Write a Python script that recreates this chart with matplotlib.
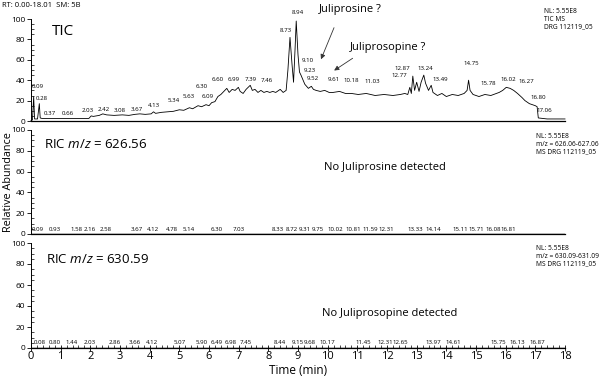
"""
LC-MS chromatogram panels: TIC plus two reconstructed ion chromatograms.
"""
import matplotlib
matplotlib.use("Agg")
import matplotlib.pyplot as plt
from matplotlib.ticker import MultipleLocator

plt.rcParams['font.family'] = ['Open Sans', 'DejaVu Sans']
plt.rcParams['mathtext.fontset'] = 'custom'
plt.rcParams['mathtext.it'] = 'Open Sans:italic'
plt.rcParams['mathtext.rm'] = 'Open Sans'

# TIC trace (time in min, relative abundance)
tic_t = [0.00, 0.05, 0.09, 0.12, 0.22, 0.28, 0.31, 0.37, 0.66, 1.00, 1.50, 1.95,
         2.03, 2.10, 2.30, 2.42, 2.55, 2.80, 3.08, 3.30, 3.50, 3.67, 3.85, 4.05,
         4.13, 4.20, 4.40, 4.60, 4.80, 5.00, 5.15, 5.34, 5.45, 5.63, 5.75, 5.90,
         6.00, 6.09, 6.20, 6.30, 6.40, 6.50, 6.60, 6.68, 6.78, 6.88, 6.99, 7.05,
         7.15, 7.25, 7.39, 7.46, 7.55, 7.65, 7.75, 7.85, 7.95, 8.05, 8.15, 8.25,
         8.40, 8.50, 8.60, 8.66, 8.73, 8.80, 8.85, 8.90, 8.94, 9.00, 9.05, 9.10,
         9.17, 9.23, 9.35, 9.45, 9.52, 9.61, 9.75, 9.90, 10.05, 10.18, 10.40, 10.60,
         10.80, 11.03, 11.30, 11.60, 11.90, 12.20, 12.45, 12.60, 12.70, 12.77, 12.82, 12.87,
         12.93, 13.00, 13.08, 13.15, 13.24, 13.30, 13.40, 13.49, 13.55, 13.70, 13.85, 14.00,
         14.20, 14.40, 14.60, 14.70, 14.75, 14.80, 14.90, 15.10, 15.30, 15.50, 15.78, 15.90,
         16.02, 16.15, 16.27, 16.40, 16.55, 16.65, 16.80, 17.00, 17.06, 17.10, 17.40, 17.80,
         18.00]
tic_y = [0.5, 1, 24, 2, 2, 17, 3, 2.5, 2.5, 2.5, 2.5, 2.5,
         5, 4.5, 5.5, 7, 6, 5.5, 6, 5.5, 6.5, 7, 6.5, 7,
         9, 7.5, 8.5, 9, 9.5, 11, 10.5, 13, 12, 15, 14, 16,
         15, 18, 19, 24, 26, 29, 32, 28, 31, 30, 33, 29,
         27, 31, 35, 30, 31, 28, 30, 28, 29, 28, 29, 28,
         31, 28, 30, 50, 82, 55, 38, 70, 98, 65, 48, 45,
         40, 36, 32, 34, 31, 30, 29, 30, 28, 28, 29, 27,
         27, 26, 27, 25, 26, 25, 26, 27, 26, 33, 27, 44,
         30, 38, 29, 38, 45, 37, 30, 35, 28, 25, 27, 24,
         26, 25, 27, 30, 40, 30, 26, 24, 26, 25, 28, 30,
         33, 32, 30, 27, 23, 20, 17, 15, 14, 3, 2, 2,
         2]

# labelled TIC peaks
tic_peaks = [0.09, 0.28, 0.37, 0.66, 2.03, 2.42, 3.08, 3.67, 4.13, 5.34, 5.63, 6.09,
             6.30, 6.60, 6.99, 7.39, 7.46, 8.73, 8.94, 9.10, 9.23, 9.52, 9.61, 10.18,
             11.03, 12.77, 12.87, 13.24, 13.49, 14.75, 15.78, 16.02, 16.27, 16.80, 17.06]
# where each label sits (layout)
tic_lab_x = [0.24, 0.37, 0.64, 1.25, 1.90, 2.44, 3.00, 3.56, 4.16, 4.80, 5.30, 5.95,
             5.75, 6.28, 6.82, 7.40, 7.95, 8.60, 9.00, 9.34, 9.40, 9.50, 10.20, 10.80,
             11.50, 12.40, 12.50, 13.30, 13.80, 14.85, 15.40, 16.10, 16.70, 17.10, 17.30]
tic_lab_y = [31, 20, 5, 5, 8, 9, 8, 9, 13, 18, 22, 22,
             31, 38, 38, 38, 37, 86, 104, 57, 47, 39, 38, 37,
             36, 42, 49, 49, 38, 54, 34, 38, 36, 21, 8]

# RIC m/z 626.56 noise labels
ric1_peaks = ['0.09', '0.93', '1.58', '2.16', '2.58', '3.67', '4.12', '4.78', '5.14',
              '6.30', '7.03', '8.33', '8.72', '9.31', '9.75', '10.02', '10.81', '11.59',
              '12.31', '13.33', '14.14', '15.11', '15.71', '16.08', '16.81']
ric1_lab_x = [0.24, 0.81, 1.52, 1.99, 2.53, 3.57, 4.11, 4.75, 5.30, 6.27, 7.00, 8.33,
              8.80, 9.23, 9.68, 10.25, 10.86, 11.43, 11.96, 12.94, 13.55, 14.46, 15.00,
              15.60, 16.10]

# RIC m/z 630.59 noise labels
ric2_peaks = ['0.08', '0.80', '1.44', '2.03', '2.86', '3.66', '4.12', '5.07', '5.90',
              '6.49', '6.98', '7.45', '8.44', '9.15', '9.68', '10.17', '11.45', '12.31',
              '12.65', '13.97', '14.61', '15.75', '16.13', '16.87']
ric2_lab_x = [0.30, 0.81, 1.37, 1.97, 2.83, 3.50, 4.07, 5.02, 5.75, 6.26, 6.74, 7.25,
              8.39, 9.00, 9.40, 10.00, 11.20, 11.93, 12.44, 13.55, 14.22, 15.74, 16.40,
              17.05]

# flat RIC baselines
ric_t = [0.0, 18.0]
ric1_y = [0.4, 0.4]
ric2_y = [0.4, 0.4]

fig = plt.figure(figsize=(6.09, 3.85), dpi=100)
left, width = 31 / 609, 534 / 609
ax1 = fig.add_axes([left, 1 - 121 / 385, width, 102 / 385])
ax2 = fig.add_axes([left, 1 - 234 / 385, width, 104 / 385])
ax3 = fig.add_axes([left, 1 - 348 / 385, width, 105 / 385])

for ax in (ax1, ax2, ax3):
    ax.set_xlim(0, 18)
    ax.set_ylim(0, 100)
    for s in ('top', 'right'):
        ax.spines[s].set_visible(False)
    ax.spines['left'].set_linewidth(0.7)
    ax.spines['bottom'].set_linewidth(0.9)
    ax.yaxis.set_major_locator(MultipleLocator(20))
    ax.yaxis.set_minor_locator(MultipleLocator(5))
    ax.tick_params(axis='y', which='major', direction='out', length=3, width=0.6,
                   labelsize=6, pad=1)
    ax.tick_params(axis='y', which='minor', direction='in', length=1.8, width=0.5)
    ax.patch.set_alpha(0)

for ax in (ax1, ax2):
    ax.tick_params(axis='x', which='both', bottom=False, labelbottom=False)

ax3.xaxis.set_major_locator(MultipleLocator(1))
ax3.xaxis.set_minor_locator(MultipleLocator(0.2))
ax3.tick_params(axis='x', which='major', direction='inout', length=5, width=0.6,
                labelsize=8, pad=0)
ax3.tick_params(axis='x', which='minor', direction='in', length=2, width=0.5)

lab_fs = 4.4
nl_fs = 4.8

# panel 1: TIC
ax1.plot(tic_t, tic_y, color='black', lw=0.6, clip_on=False)
for lab, x, y in zip(tic_peaks, tic_lab_x, tic_lab_y):
    ax1.text(x, y, f"{lab:.2f}", fontsize=lab_fs, ha='center', va='bottom', clip_on=False)
ax1.text(0.7, 88, 'TIC', fontsize=11, va='center')
ax1.annotate('', xy=(9.74, 58), xytext=(10.25, 94),
             arrowprops=dict(arrowstyle='-|>', lw=0.6, color='#333333',
                             mutation_scale=7))
ax1.text(10.75, 109, 'Juliprosine ?', fontsize=8, ha='center', va='center')
ax1.annotate('', xy=(10.14, 48), xytext=(10.92, 63),
             arrowprops=dict(arrowstyle='-|>', lw=0.6, color='#333333',
                             mutation_scale=7))
ax1.text(12.05, 72, 'Juliprosopine ?', fontsize=8, ha='center', va='center')
ax1.text(17.3, 111, 'NL: 5.55E8\nTIC MS\nDRG 112119_05', fontsize=nl_fs,
         va='top', linespacing=1.15)

# panel 2: RIC 626.56
ax2.plot(ric_t, ric1_y, color='black', lw=1.0)
for lab, x in zip(ric1_peaks, ric1_lab_x):
    ax2.text(x, 1.5, lab, fontsize=lab_fs, ha='center', va='bottom')
ax2.text(0.45, 86, 'RIC $m/z$ = 626.56', fontsize=9.5, va='center')
ax2.text(11.93, 64, 'No Juliprosine detected', fontsize=8, ha='center', va='center')
ax2.text(17.02, 97, 'NL: 5.55E8\nm/z = 626.06-627.06\nMS DRG 112119_05',
         fontsize=nl_fs, va='top', linespacing=1.15)

# panel 3: RIC 630.59
ax3.plot(ric_t, ric2_y, color='black', lw=1.0)
for lab, x in zip(ric2_peaks, ric2_lab_x):
    ax3.text(x, 2.5, lab, fontsize=lab_fs, ha='center', va='bottom')
ax3.text(0.5, 84, 'RIC $m/z$ = 630.59', fontsize=9.5, va='center')
ax3.text(12.1, 33, 'No Juliprosopine detected', fontsize=8, ha='center', va='center')
ax3.text(17.02, 98, 'NL: 5.55E8\nm/z = 630.09-631.09\nMS DRG 112119_05',
         fontsize=nl_fs, va='top', linespacing=1.15)

ax3.set_xlabel('Time (min)', fontsize=8.5, labelpad=1)
fig.text(0.014, 1 - 182 / 385, 'Relative Abundance', rotation=90, fontsize=7.8,
         ha='center', va='center')
fig.text(0.004, 0.995, 'RT: 0.00-18.01  SM: 5B', fontsize=5.5, va='top')

plt.savefig('out.png', dpi=100)
plt.close()
